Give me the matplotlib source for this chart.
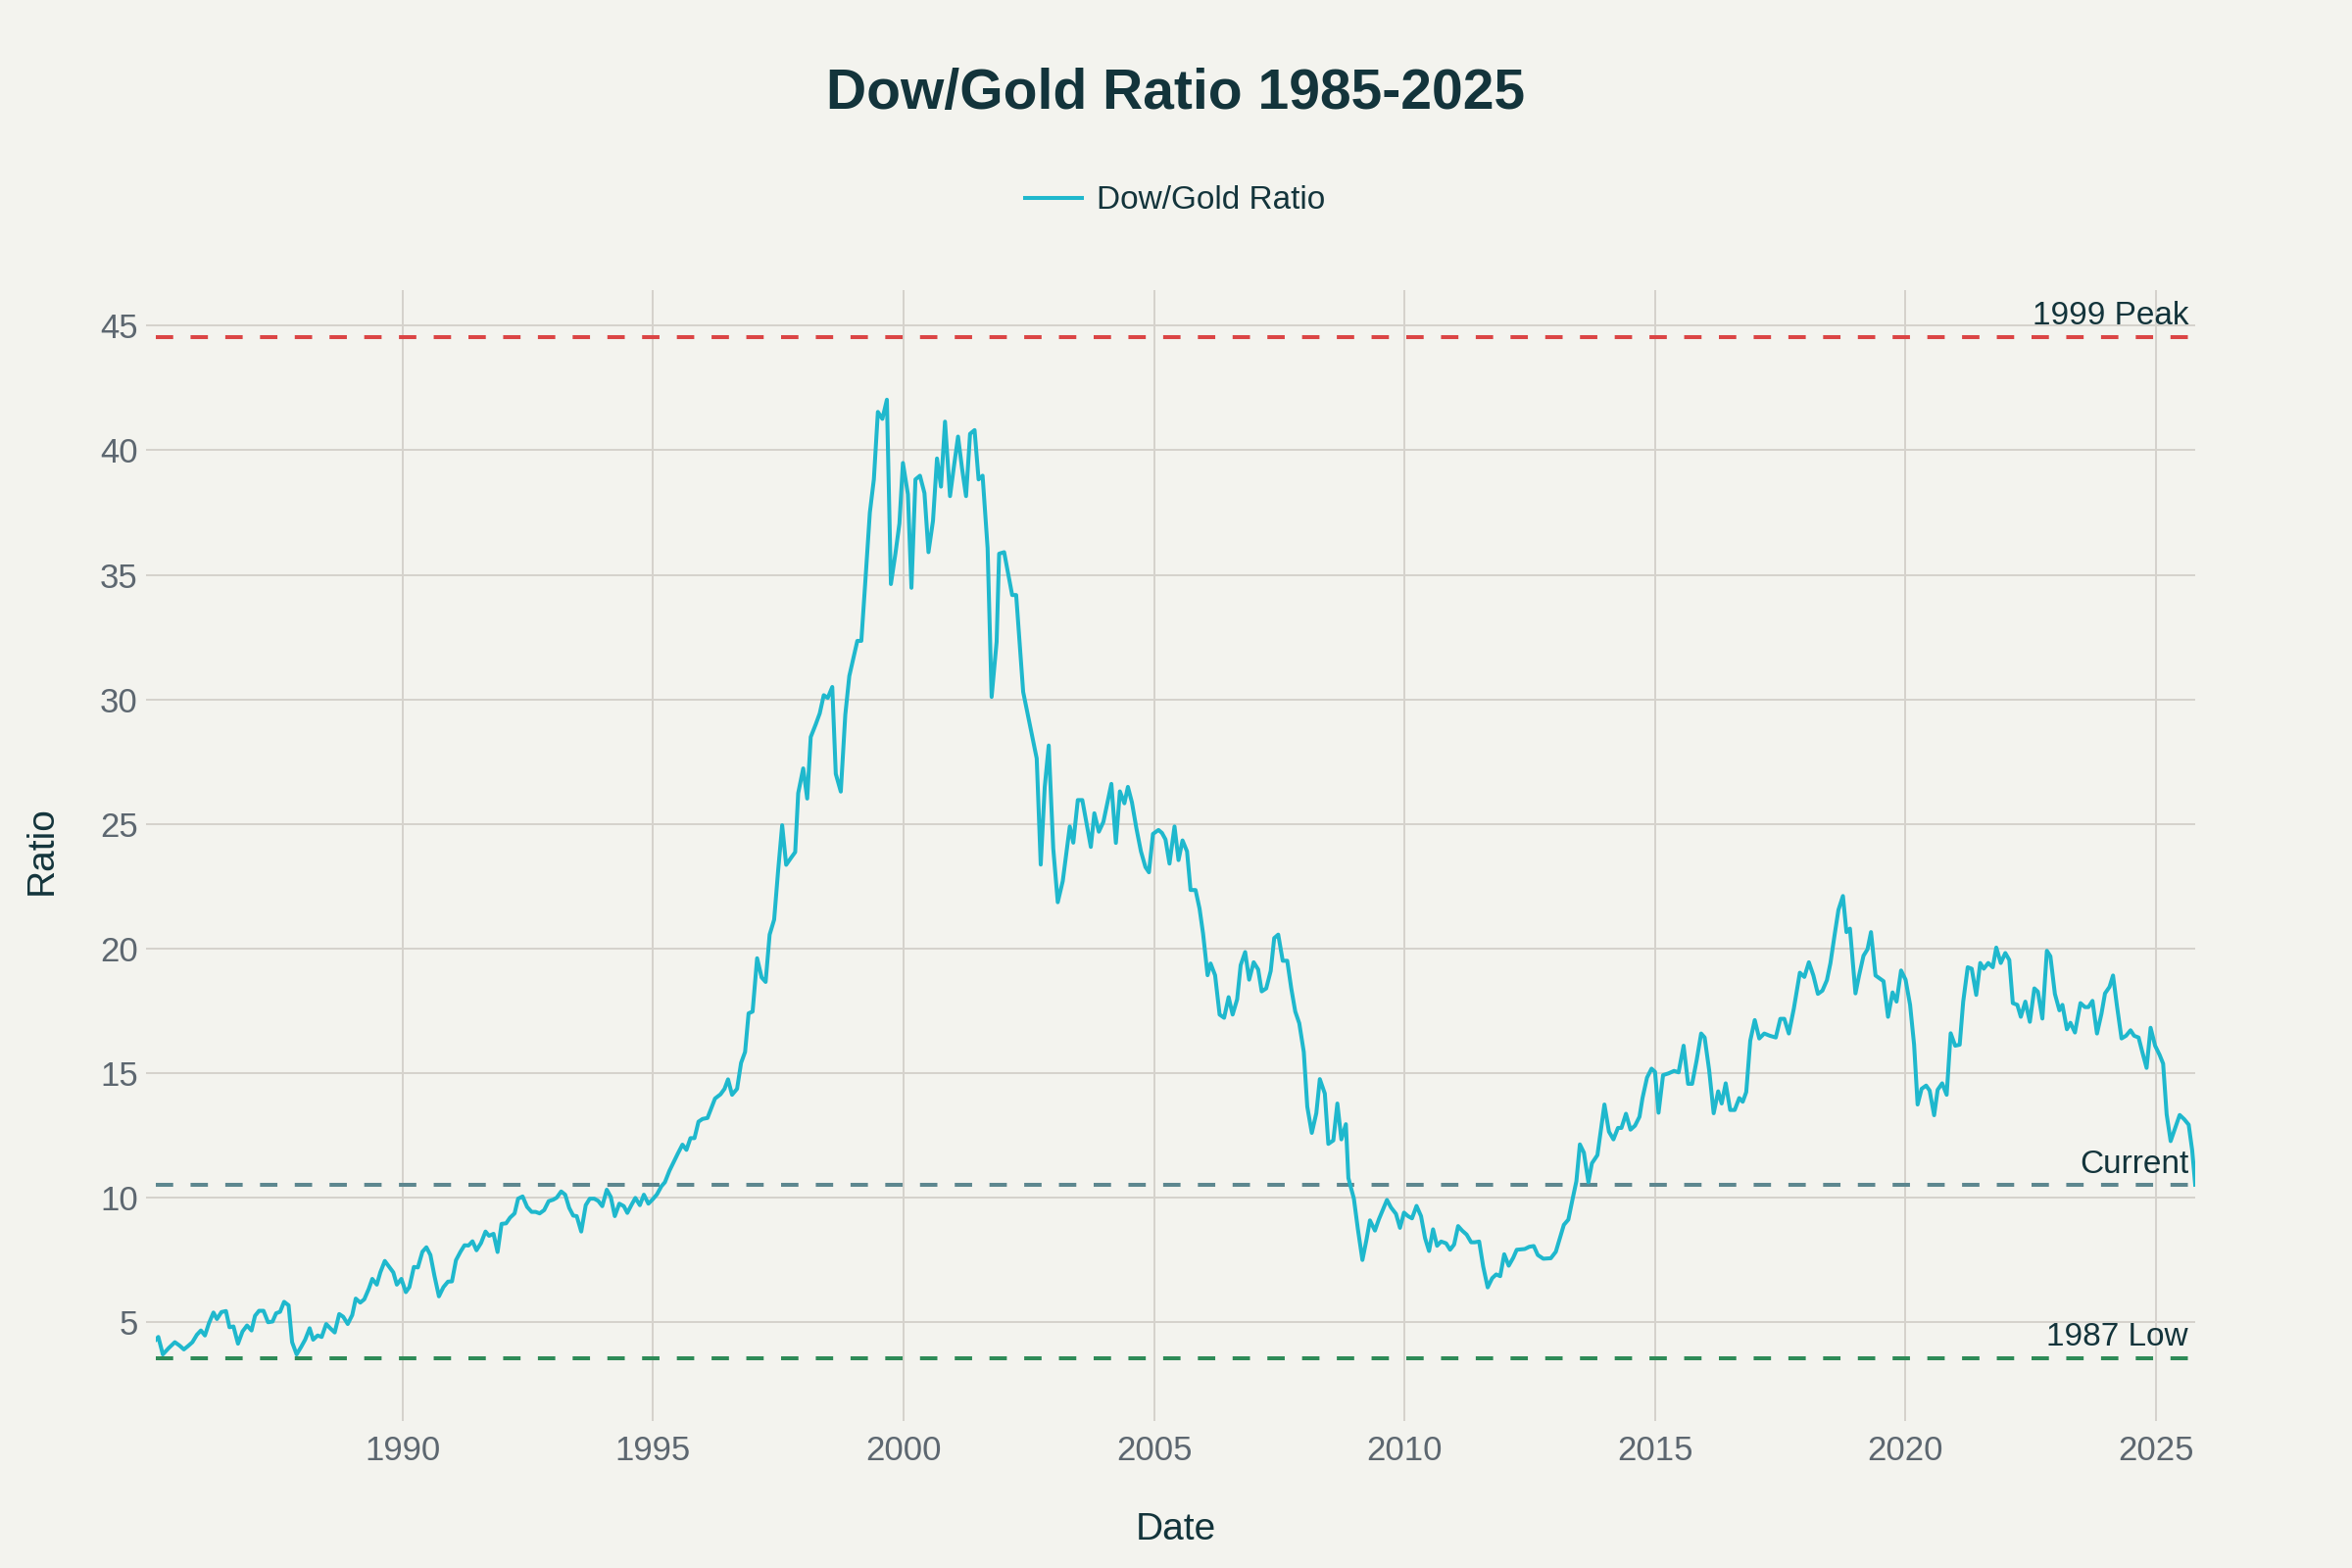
import matplotlib
matplotlib.use('Agg')
import matplotlib.pyplot as plt

plt.rcParams['font.family'] = ['Liberation Sans', 'DejaVu Sans']

# ---------------- data ----------------
years = [
    1985.08, 1985.13, 1985.22, 1985.34, 1985.46, 1985.55, 1985.64, 1985.72, 1985.81, 1985.90, 1985.98,
    1986.06, 1986.14, 1986.23, 1986.30, 1986.39, 1986.48, 1986.55, 1986.63, 1986.72, 1986.81, 1986.90, 1986.99,
    1987.06, 1987.14, 1987.23, 1987.32, 1987.41, 1987.48, 1987.56, 1987.64, 1987.73, 1987.80, 1987.89, 1987.98,
    1988.06, 1988.15, 1988.22, 1988.31, 1988.39, 1988.48, 1988.56, 1988.65, 1988.74, 1988.82, 1988.91,
    1989.00, 1989.07, 1989.16, 1989.24, 1989.33, 1989.40, 1989.49, 1989.56, 1989.65, 1989.74, 1989.82, 1989.89, 1989.98,
    1990.07, 1990.14, 1990.23, 1990.31, 1990.40, 1990.48, 1990.56, 1990.64, 1990.73, 1990.82, 1990.91, 1990.99,
    1991.07, 1991.16, 1991.24, 1991.32, 1991.40, 1991.48, 1991.57, 1991.66, 1991.73, 1991.82, 1991.90, 1991.98,
    1992.07, 1992.15, 1992.24, 1992.31, 1992.40, 1992.49, 1992.58, 1992.66, 1992.74, 1992.83, 1992.92,
    1993.01, 1993.08, 1993.17, 1993.25, 1993.33, 1993.41, 1993.48, 1993.57, 1993.66, 1993.74, 1993.83, 1993.91, 1993.99,
    1994.08, 1994.16, 1994.24, 1994.33, 1994.42, 1994.49, 1994.57, 1994.65, 1994.74, 1994.82, 1994.91, 1994.99,
    1995.08, 1995.17, 1995.24, 1995.33, 1995.41, 1995.50, 1995.59, 1995.67, 1995.75, 1995.83, 1995.91, 1995.99,
    1996.09, 1996.24, 1996.35, 1996.43, 1996.50, 1996.58, 1996.68, 1996.76, 1996.84, 1996.91, 1996.99,
    1997.08, 1997.17, 1997.25, 1997.33, 1997.42, 1997.50, 1997.58, 1997.66, 1997.76, 1997.84, 1997.90,
    1998.00, 1998.08, 1998.15, 1998.25, 1998.33, 1998.41, 1998.49, 1998.58, 1998.65, 1998.75, 1998.84, 1998.92,
    1999.00, 1999.08, 1999.16, 1999.24, 1999.33, 1999.41, 1999.49, 1999.58, 1999.67, 1999.75, 1999.84, 1999.92, 1999.99,
    2000.09, 2000.16, 2000.24, 2000.33, 2000.42, 2000.50, 2000.59, 2000.67, 2000.75, 2000.83, 2000.93,
    2001.01, 2001.09, 2001.17, 2001.25, 2001.33, 2001.42, 2001.50, 2001.58, 2001.68, 2001.76, 2001.86, 2001.91,
    2002.01, 2002.17, 2002.25, 2002.39, 2002.50, 2002.66, 2002.74, 2002.82, 2002.90, 2002.99,
    2003.08, 2003.18, 2003.32, 2003.39, 2003.48, 2003.57, 2003.74, 2003.81, 2003.90, 2003.99,
    2004.15, 2004.24, 2004.32, 2004.41, 2004.48, 2004.56, 2004.65, 2004.74, 2004.83, 2004.90, 2004.98,
    2005.09, 2005.16, 2005.23, 2005.31, 2005.41, 2005.49, 2005.57, 2005.66, 2005.73, 2005.83, 2005.91, 2005.98,
    2006.07, 2006.13, 2006.22, 2006.31, 2006.40, 2006.49, 2006.57, 2006.66, 2006.73, 2006.82, 2006.90, 2006.99,
    2007.08, 2007.15, 2007.24, 2007.33, 2007.40, 2007.48, 2007.57, 2007.66, 2007.74, 2007.82, 2007.90, 2007.99,
    2008.06, 2008.15, 2008.24, 2008.31, 2008.41, 2008.48, 2008.58, 2008.66, 2008.74, 2008.83, 2008.88, 2008.99,
    2009.07, 2009.16, 2009.24, 2009.31, 2009.41, 2009.49, 2009.57, 2009.65, 2009.73, 2009.83, 2009.91, 2009.99,
    2010.07, 2010.15, 2010.24, 2010.33, 2010.41, 2010.49, 2010.57, 2010.65, 2010.73, 2010.83, 2010.91, 2010.99,
    2011.07, 2011.15, 2011.24, 2011.33, 2011.40, 2011.49, 2011.57, 2011.66, 2011.75, 2011.83, 2011.91, 2011.99,
    2012.08, 2012.17, 2012.24, 2012.40, 2012.49, 2012.58, 2012.66, 2012.77, 2012.92,
    2013.02, 2013.11, 2013.18, 2013.27, 2013.36, 2013.43, 2013.50, 2013.58, 2013.67, 2013.74, 2013.85, 2013.99,
    2014.08, 2014.17, 2014.26, 2014.33, 2014.42, 2014.51, 2014.60, 2014.69, 2014.75, 2014.84, 2014.93,
    2015.00, 2015.07, 2015.16, 2015.27, 2015.38, 2015.47, 2015.57, 2015.66, 2015.74, 2015.83, 2015.92, 2015.99,
    2016.08, 2016.17, 2016.26, 2016.33, 2016.41, 2016.50, 2016.59, 2016.68, 2016.75, 2016.82, 2016.90, 2016.99,
    2017.08, 2017.18, 2017.29, 2017.41, 2017.50, 2017.58, 2017.67, 2017.77, 2017.89, 2017.98,
    2018.07, 2018.16, 2018.25, 2018.34, 2018.43, 2018.50, 2018.58, 2018.66, 2018.75, 2018.82, 2018.89,
    2019.00, 2019.07, 2019.16, 2019.24, 2019.31, 2019.40, 2019.49, 2019.56, 2019.65, 2019.74, 2019.82, 2019.91,
    2020.00, 2020.09, 2020.17, 2020.24, 2020.32, 2020.41, 2020.48, 2020.57, 2020.64, 2020.73, 2020.82, 2020.90, 2020.99,
    2021.08, 2021.15, 2021.24, 2021.32, 2021.41, 2021.49, 2021.56, 2021.65, 2021.74, 2021.81, 2021.90, 2021.99,
    2022.07, 2022.14, 2022.23, 2022.30, 2022.39, 2022.48, 2022.57, 2022.64, 2022.73, 2022.82, 2022.89, 2022.98,
    2023.07, 2023.13, 2023.22, 2023.29, 2023.38, 2023.49, 2023.58, 2023.65, 2023.73, 2023.82, 2023.91, 2023.98,
    2024.07, 2024.14, 2024.22, 2024.31, 2024.40, 2024.49, 2024.56, 2024.65, 2024.72, 2024.81, 2024.89, 2024.98,
    2025.07, 2025.14, 2025.21, 2025.29, 2025.38, 2025.47, 2025.56, 2025.65, 2025.72, 2025.78,
]

ratio = [
    4.30, 4.41, 3.71, 3.97, 4.20, 4.07, 3.91, 4.04, 4.20, 4.50, 4.67,
    4.47, 4.96, 5.39, 5.13, 5.41, 5.45, 4.80, 4.83, 4.14, 4.63, 4.87, 4.67,
    5.26, 5.46, 5.46, 5.00, 5.03, 5.36, 5.42, 5.82, 5.68, 4.20, 3.71, 4.01,
    4.30, 4.76, 4.30, 4.47, 4.41, 4.93, 4.76, 4.59, 5.33, 5.22, 4.93,
    5.29, 5.95, 5.79, 5.92, 6.34, 6.74, 6.51, 7.00, 7.46, 7.22, 7.00, 6.51, 6.74,
    6.21, 6.41, 7.22, 7.20, 7.83, 8.01, 7.70, 6.87, 6.04, 6.41, 6.63, 6.64,
    7.49, 7.83, 8.09, 8.08, 8.25, 7.89, 8.18, 8.64, 8.47, 8.55, 7.82, 8.95,
    8.97, 9.20, 9.37, 9.96, 10.05, 9.63, 9.43, 9.43, 9.37, 9.50, 9.86,
    9.92, 10.00, 10.25, 10.12, 9.59, 9.28, 9.26, 8.64, 9.70, 9.96, 9.96, 9.87, 9.66,
    10.32, 10.03, 9.26, 9.76, 9.66, 9.39, 9.70, 9.99, 9.70, 10.12, 9.76, 9.92,
    10.13, 10.46, 10.62, 11.08, 11.41, 11.78, 12.13, 11.92, 12.39, 12.39, 13.05, 13.16,
    13.20, 13.98, 14.15, 14.37, 14.75, 14.13, 14.37, 15.41, 15.85, 17.40, 17.47,
    19.61, 18.84, 18.66, 20.56, 21.16, 23.14, 24.95, 23.36, 23.65, 23.87, 26.24,
    27.23, 26.02, 28.49, 29.00, 29.44, 30.17, 30.06, 30.50, 27.01, 26.30, 29.39, 30.94,
    31.65, 32.35, 32.35, 34.74, 37.50, 38.83, 41.54, 41.26, 42.03, 34.63, 35.85, 37.06, 39.49,
    38.23, 34.48, 38.83, 38.98, 38.28, 35.91, 37.17, 39.67, 38.54, 41.15, 38.16,
    39.38, 40.55, 39.27, 38.16, 40.66, 40.81, 38.83, 38.98, 36.07, 30.10, 32.31, 35.85,
    35.91, 34.19, 34.19, 30.30, 29.21, 27.63, 23.37, 26.48, 28.15, 24.02,
    21.86, 22.71, 24.90, 24.25, 25.96, 25.96, 24.08, 25.43, 24.69, 25.08,
    26.61, 24.24, 26.31, 25.83, 26.49, 25.87, 24.82, 23.90, 23.27, 23.06, 24.60,
    24.76, 24.64, 24.38, 23.41, 24.90, 23.55, 24.34, 23.90, 22.35, 22.35, 21.60, 20.60,
    18.93, 19.40, 18.93, 17.35, 17.22, 18.05, 17.35, 17.96, 19.33, 19.86, 18.75, 19.45,
    19.16, 18.28, 18.40, 19.10, 20.42, 20.56, 19.51, 19.51, 18.40, 17.47, 17.00, 15.85,
    13.65, 12.60, 13.39, 14.76, 14.18, 12.16, 12.30, 13.78, 12.34, 12.95, 10.79, 9.96,
    8.73, 7.50, 8.30, 9.09, 8.68, 9.14, 9.53, 9.91, 9.61, 9.35, 8.79, 9.40,
    9.26, 9.17, 9.67, 9.26, 8.38, 7.86, 8.73, 8.07, 8.24, 8.17, 7.91, 8.12,
    8.86, 8.68, 8.52, 8.21, 8.21, 8.24, 7.24, 6.40, 6.77, 6.92, 6.85, 7.73,
    7.27, 7.59, 7.91, 7.94, 8.03, 8.06, 7.70, 7.55, 7.57,
    7.83, 8.43, 8.91, 9.12, 10.00, 10.66, 12.14, 11.81, 10.62, 11.38, 11.71, 13.74,
    12.65, 12.34, 12.80, 12.80, 13.37, 12.73, 12.89, 13.25, 14.00, 14.82, 15.18,
    15.05, 13.41, 14.92, 14.99, 15.09, 15.03, 16.10, 14.57, 14.57, 15.51, 16.59, 16.43,
    15.12, 13.39, 14.27, 13.78, 14.59, 13.52, 13.52, 14.00, 13.85, 14.24, 16.30, 17.13,
    16.39, 16.59, 16.50, 16.43, 17.18, 17.18, 16.59, 17.59, 19.03, 18.86,
    19.45, 18.92, 18.18, 18.31, 18.73, 19.41, 20.50, 21.55, 22.11, 20.66, 20.80,
    18.20, 18.90, 19.71, 19.97, 20.66, 18.92, 18.79, 18.69, 17.26, 18.24, 17.87, 19.12,
    18.75, 17.74, 16.14, 13.74, 14.37, 14.50, 14.30, 13.31, 14.33, 14.59, 14.13, 16.60, 16.10,
    16.14, 17.87, 19.25, 19.19, 18.14, 19.42, 19.19, 19.42, 19.25, 20.04, 19.42, 19.82,
    19.54, 17.81, 17.74, 17.26, 17.87, 17.06, 18.40, 18.27, 17.19, 19.91, 19.69, 18.18,
    17.52, 17.74, 16.76, 17.02, 16.63, 17.81, 17.65, 17.65, 17.90, 16.59, 17.39, 18.20,
    18.46, 18.92, 17.68, 16.39, 16.50, 16.72, 16.50, 16.43, 15.88, 15.21, 16.82, 16.10,
    15.73, 15.38, 13.35, 12.27, 12.80, 13.32, 13.15, 12.93, 11.90, 10.52,
]

ref_levels = [44.56, 10.50, 3.56]
ref_labels = ['1999 Peak', 'Current', '1987 Low']
ref_colors = ['#DB4545', '#5D878F', '#2E8B57']

x_ticks = [1990, 1995, 2000, 2005, 2010, 2015, 2020, 2025]
y_ticks = [5, 10, 15, 20, 25, 30, 35, 40, 45]

# ---------------- style ----------------
BG = '#F3F3EE'
DARK = '#13343B'
TICK = '#5D6770'
GRID = '#D5D2CC'
LINE = '#1FB8CD'

fig = plt.figure(figsize=(12, 8), dpi=200, facecolor=BG)
ax = fig.add_axes([159 / 2400, 160 / 1600, 2081 / 2400, 1144 / 1600])
ax.set_facecolor(BG)

lw_ref = 1.45
for lvl, col in zip(ref_levels, ref_colors):
    ax.axhline(lvl, color=col, lw=lw_ref, linestyle=(0, (4.4, 4.4)), zorder=2)

ax.plot(years, ratio, color=LINE, lw=1.45, label='Dow/Gold Ratio', zorder=3,
        solid_joinstyle='round')

ax.set_xlim(years[0], years[-1])
ax.set_ylim(1.43, 46.43)
ax.set_xticks(x_ticks)
ax.set_xticklabels([str(t) for t in x_ticks])
ax.set_yticks(y_ticks)
ax.set_yticklabels([str(t) for t in y_ticks])

ax.grid(True, color=GRID, lw=0.7)
ax.set_axisbelow(True)
for s in ax.spines.values():
    s.set_visible(False)
ax.tick_params(axis='both', length=3.6, width=0.7, color=GRID,
               labelcolor=TICK, labelsize=12.5)
ax.tick_params(axis='x', pad=5)
ax.tick_params(axis='y', pad=3)

for lvl, lab in zip(ref_levels, ref_labels):
    ax.annotate(lab, xy=(1, lvl), xycoords=('axes fraction', 'data'),
                xytext=(-2.5, 4.5), textcoords='offset points',
                ha='right', va='baseline', fontsize=12, color=DARK, zorder=4)

fig.text(0.5, 0.94, 'Dow/Gold Ratio 1985-2025', ha='center', va='center',
         fontsize=20.5, fontweight='bold', color=DARK)

fig.legend(loc='center', bbox_to_anchor=(0.4996, 0.872), frameon=False,
           fontsize=12, handlelength=1.75, handletextpad=0.45, labelcolor=DARK)

fig.text(43 / 2400, 0.4575, 'Ratio', rotation=90, ha='center', va='center',
         fontsize=14, color=DARK)
fig.text(0.4998, 1 - 1561 / 1600, 'Date', ha='center', va='center',
         fontsize=14, color=DARK)

fig.savefig('out.png', dpi=200, facecolor=BG)
